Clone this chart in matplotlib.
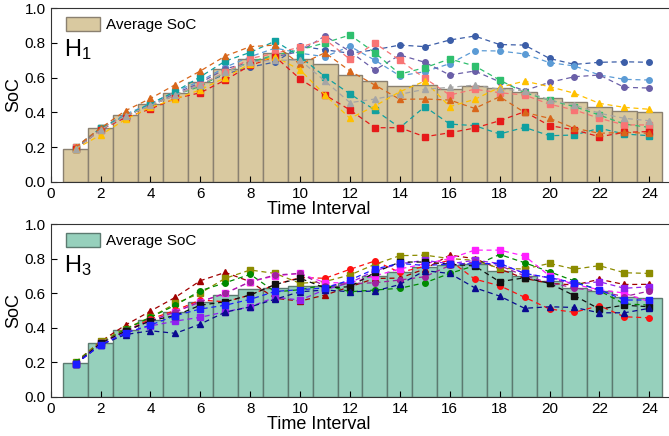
import matplotlib.pyplot as plt
import numpy as np

plt.rcParams['font.family'] = ['Liberation Sans', 'DejaVu Sans']
plt.rcParams['mathtext.fontset'] = 'custom'
plt.rcParams['mathtext.rm'] = 'Liberation Sans'
plt.rcParams['mathtext.it'] = 'Liberation Sans:italic'

hours = np.arange(1, 25)

# ---- H1 panel ----
avg_h1 = [0.19, 0.31, 0.385, 0.45, 0.51, 0.575, 0.65, 0.705, 0.74, 0.705, 0.68, 0.615,
          0.58, 0.55, 0.56, 0.535, 0.55, 0.54, 0.52, 0.48, 0.46, 0.43, 0.41, 0.40]

h1_darkblue = [0.19, 0.31, 0.38, 0.44, 0.50, 0.56, 0.62, 0.66, 0.69, 0.78, 0.76, 0.74,
               0.76, 0.787, 0.778, 0.816, 0.839, 0.79, 0.787, 0.71, 0.676, 0.688, 0.691, 0.688]
h1_lightblue = [0.20, 0.31, 0.39, 0.45, 0.52, 0.58, 0.66, 0.72, 0.77, 0.74, 0.72, 0.78,
                0.70, 0.61, 0.634, 0.68, 0.755, 0.753, 0.736, 0.686, 0.667, 0.615, 0.59, 0.586]
h1_purple = [0.19, 0.30, 0.38, 0.44, 0.51, 0.57, 0.65, 0.69, 0.72, 0.75, 0.84, 0.75,
             0.644, 0.73, 0.688, 0.615, 0.638, 0.576, 0.525, 0.573, 0.605, 0.615, 0.544, 0.54]
h1_green = [0.20, 0.31, 0.38, 0.44, 0.50, 0.55, 0.63, 0.69, 0.73, 0.76, 0.80, 0.845,
            0.743, 0.62, 0.657, 0.707, 0.667, 0.586, 0.513, 0.471, 0.433, 0.385, 0.333, 0.314]
h1_salmon = [0.20, 0.31, 0.38, 0.44, 0.50, 0.56, 0.63, 0.71, 0.74, 0.775, 0.82, 0.705,
             0.797, 0.70, 0.596, 0.50, 0.533, 0.513, 0.50, 0.447, 0.414, 0.366, 0.328, 0.328]
h1_teal = [0.19, 0.31, 0.38, 0.45, 0.52, 0.605, 0.695, 0.745, 0.81, 0.72, 0.605, 0.506,
           0.414, 0.312, 0.433, 0.333, 0.324, 0.276, 0.314, 0.266, 0.27, 0.309, 0.276, 0.266]
h1_red = [0.19, 0.30, 0.37, 0.42, 0.48, 0.513, 0.586, 0.67, 0.72, 0.592, 0.50, 0.414,
          0.312, 0.312, 0.26, 0.283, 0.31, 0.352, 0.404, 0.324, 0.30, 0.26, 0.285, 0.29]
h1_orange = [0.20, 0.31, 0.41, 0.48, 0.56, 0.638, 0.724, 0.778, 0.787, 0.676, 0.743, 0.638,
             0.557, 0.475, 0.477, 0.471, 0.423, 0.49, 0.40, 0.366, 0.309, 0.28, 0.285, 0.28]
h1_yellow = [0.19, 0.27, 0.36, 0.43, 0.477, 0.53, 0.60, 0.68, 0.72, 0.644, 0.50, 0.366,
             0.437, 0.519, 0.58, 0.433, 0.475, 0.544, 0.58, 0.548, 0.51, 0.452, 0.429, 0.418]
h1_gray = [0.19, 0.30, 0.38, 0.44, 0.50, 0.56, 0.63, 0.69, 0.70, 0.70, 0.58, 0.456,
           0.477, 0.504, 0.533, 0.544, 0.557, 0.533, 0.525, 0.471, 0.443, 0.395, 0.366, 0.352]

h1_series = [
    (h1_darkblue, '#3c5ea8', 'o'),
    (h1_lightblue, '#5b9bd5', 'o'),
    (h1_purple, '#6a5fa8', 'o'),
    (h1_green, '#2fbf6e', 's'),
    (h1_salmon, '#f87474', 's'),
    (h1_teal, '#10a0a0', 's'),
    (h1_red, '#e61919', 's'),
    (h1_orange, '#d8661a', '^'),
    (h1_yellow, '#ffc000', '^'),
    (h1_gray, '#a5a5a5', '^'),
]

# ---- H3 panel ----
avg_h3 = [0.193, 0.31, 0.385, 0.444, 0.49, 0.547, 0.587, 0.624, 0.628, 0.64, 0.64, 0.66,
          0.70, 0.72, 0.75, 0.76, 0.77, 0.73, 0.70, 0.67, 0.63, 0.61, 0.575, 0.57]

h3_darkred = [0.20, 0.32, 0.415, 0.496, 0.576, 0.672, 0.72, 0.666, 0.57, 0.554, 0.589, 0.637,
              0.685, 0.687, 0.74, 0.82, 0.80, 0.74, 0.685, 0.657, 0.647, 0.68, 0.65, 0.651]
h3_olive = [0.20, 0.32, 0.395, 0.46, 0.54, 0.60, 0.686, 0.734, 0.714, 0.657, 0.667, 0.705,
            0.767, 0.817, 0.82, 0.80, 0.79, 0.743, 0.74, 0.772, 0.739, 0.759, 0.718, 0.714]
h3_green = [0.20, 0.31, 0.39, 0.46, 0.53, 0.614, 0.66, 0.709, 0.607, 0.62, 0.647, 0.608,
            0.618, 0.628, 0.66, 0.714, 0.759, 0.824, 0.776, 0.724, 0.67, 0.614, 0.537, 0.531]
h3_red = [0.19, 0.31, 0.38, 0.45, 0.50, 0.56, 0.55, 0.589, 0.65, 0.69, 0.686, 0.738,
          0.786, 0.72, 0.755, 0.79, 0.681, 0.643, 0.576, 0.508, 0.489, 0.527, 0.463, 0.457]
h3_magenta = [0.19, 0.31, 0.38, 0.44, 0.49, 0.55, 0.60, 0.666, 0.70, 0.714, 0.66, 0.66,
              0.70, 0.74, 0.77, 0.80, 0.849, 0.849, 0.815, 0.70, 0.65, 0.62, 0.60, 0.55]
h3_violet = [0.19, 0.30, 0.37, 0.41, 0.438, 0.46, 0.492, 0.521, 0.576, 0.56, 0.62, 0.66,
             0.73, 0.77, 0.79, 0.77, 0.79, 0.772, 0.714, 0.688, 0.65, 0.666, 0.628, 0.637]
h3_purple = [0.19, 0.31, 0.38, 0.44, 0.492, 0.55, 0.599, 0.666, 0.705, 0.714, 0.64, 0.655,
             0.66, 0.676, 0.695, 0.76, 0.78, 0.76, 0.70, 0.66, 0.63, 0.61, 0.58, 0.612]
h3_black = [0.19, 0.31, 0.38, 0.44, 0.47, 0.53, 0.55, 0.589, 0.65, 0.686, 0.63, 0.637,
            0.72, 0.78, 0.78, 0.768, 0.757, 0.666, 0.689, 0.657, 0.585, 0.508, 0.53, 0.521]
h3_navy = [0.19, 0.30, 0.36, 0.382, 0.367, 0.421, 0.49, 0.52, 0.565, 0.608, 0.618, 0.608,
           0.612, 0.65, 0.73, 0.714, 0.631, 0.583, 0.512, 0.521, 0.517, 0.486, 0.486, 0.512]
h3_blue = [0.19, 0.30, 0.37, 0.415, 0.47, 0.508, 0.53, 0.564, 0.61, 0.62, 0.63, 0.676,
           0.74, 0.772, 0.76, 0.768, 0.77, 0.772, 0.714, 0.69, 0.66, 0.62, 0.56, 0.56]

h3_series = [
    (h3_darkred, '#a00000', '^'),
    (h3_olive, '#8c8c00', 's'),
    (h3_green, '#008a00', 'o'),
    (h3_red, '#ff1010', 'o'),
    (h3_magenta, '#ff20ff', 's'),
    (h3_violet, '#9020f0', 's'),
    (h3_purple, '#a020a0', 'o'),
    (h3_black, '#101010', 's'),
    (h3_navy, '#0a0a90', '^'),
    (h3_blue, '#1c1cff', 's'),
]

xticks = list(range(0, 25, 2))
yticks = [0.0, 0.2, 0.4, 0.6, 0.8, 1.0]


def draw_panel(ax, avg, series, bar_color, edge_color, tag):
    ax.bar(hours, avg, width=1.0, color=bar_color, edgecolor=edge_color,
           linewidth=1.0, label='Average SoC', zorder=1)
    for vals, c, m in series:
        ax.plot(hours, vals, linestyle=(0, (4, 3)), color=c, marker=m,
                markersize=4, linewidth=0.9, zorder=3)
    ax.set_xlim(0, 24.75)
    ax.set_ylim(0, 1.0)
    ax.set_xticks(xticks)
    ax.set_yticks(yticks)
    ax.tick_params(direction='in', labelsize=11, length=4)
    ax.spines['right'].set_visible(False)
    for s in ['left', 'bottom', 'top']:
        ax.spines[s].set_color('#333333')
    ax.set_xlabel('Time Interval', fontsize=13)
    ax.xaxis.set_label_coords(0.435, -0.11)
    ax.set_ylabel('SoC', fontsize=13, labelpad=2)
    ax.legend(loc='upper left', frameon=False, fontsize=11, handlelength=2.2,
              handleheight=1.0, handletextpad=0.4, borderaxespad=0.2,
              bbox_to_anchor=(0.01, 1.0))
    ax.text(0.022, 0.76, tag, transform=ax.transAxes, fontsize=17, va='center')


fig = plt.figure(figsize=(6.69, 4.36), dpi=100)
ax1 = fig.add_axes([0.0758, 0.5826, 0.9227, 0.399])
ax2 = fig.add_axes([0.0758, 0.0901, 0.9227, 0.396])

draw_panel(ax1, avg_h1, h1_series, '#d9c9a0', '#8a8070', 'H$_1$')
draw_panel(ax2, avg_h3, h3_series, '#96d0bc', '#5c7a70', 'H$_3$')

fig.savefig('out.png', dpi=100)
